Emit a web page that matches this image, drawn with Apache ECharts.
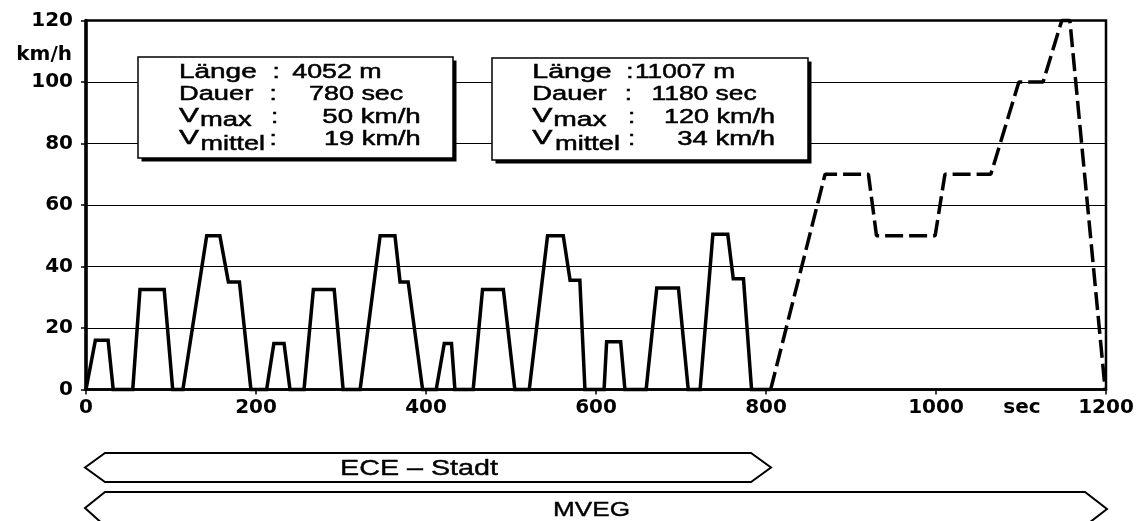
<!DOCTYPE html>
<html><head><meta charset="utf-8">
<script src="https://cdn.jsdelivr.net/npm/echarts@6/dist/echarts.min.js"></script>
<style>html,body{margin:0;padding:0;background:#fff}#c{width:1143px;height:521px}</style>
</head><body><div id="c"></div>
<script>
// ---------- data ----------
const xTickStep = 200;              // x tick labels: 0 ... 1200
const yTickStep = 20;               // y tick labels: 0 ... 120
const unitY = 'km/h';
const unitX = 'sec';

// ECE-Stadt (4 x urban cycle), time [s] and speed [km/h]
const eceT = [0, 11, 26, 32, 55, 63.5, 92, 102, 114, 142, 157.5, 167.5, 180.5, 194, 212.5,
  221, 233, 240, 256.5, 267.5, 292, 302.5, 322.5, 346, 363.5, 369.5, 379, 396, 412,
  421.5, 430, 434, 455.5, 466.5, 491, 504.5, 521.5, 543, 561.5, 569.5, 581, 587, 609.5,
  612.5, 629, 634, 659, 671.5, 697, 708.5, 722.5, 737.5, 755, 761.5, 773.5, 783, 805.5];
const eceV = [0, 16, 16, 0, 0, 32.5, 32.5, 0, 0, 50, 50, 35, 35, 0, 0,
  15, 15, 0, 0, 32.5, 32.5, 0, 0, 50, 50, 35, 35, 0, 0,
  15, 15, 0, 0, 32.5, 32.5, 0, 0, 50, 50, 35.5, 35.5, 0, 0,
  15.5, 15.5, 0, 0, 33, 33, 0, 0, 50.5, 50.5, 36, 36, 0, 0];

// extra-urban part of MVEG (dashed)
const eudcT = [805.5, 869.5, 920.5, 930, 999, 1010.5, 1064.5, 1097.5, 1126, 1148, 1157.5, 1199];
const eudcV = [0, 70, 70, 50, 50, 70, 70, 100, 100, 120, 120, 0];

// info boxes
const statLabels = ['Länge', 'Dauer', 'V', 'V'];
const statSubs = ['', '', 'max', 'mittel'];
const eceStats = ['4052 m', '780 sec', '50 km/h', '19 km/h'];
const mvegStats = ['11007 m', '1180 sec', '120 km/h', '34 km/h'];
const bandLabels = ['ECE – Stadt', 'MVEG'];

// ---------- layout ----------
const zip = (a, b) => a.map((v, i) => [v, b[i]]);
const ctx = document.createElement('canvas').getContext('2d');
const BOXFAMILY = 'Liberation Sans';
const FS = 20;
function txt(str, left, right, cy, size, weight, family, sx, heavy) {
  ctx.font = `${weight} ${size}px "${family}"`;
  const w = ctx.measureText(str).width;
  const scaleX = right != null ? (right - left) / w : (sx || 1.3);
  const style = { text: str, fontSize: size, fontFamily: family, fontWeight: weight, fill: '#000',
    align: 'left', verticalAlign: 'middle', textAlign: 'left', textVerticalAlign: 'middle' };
  if (heavy) { style.stroke = '#000'; style.lineWidth = heavy; }
  return { type: 'text', x: left, y: cy, scaleX: scaleX, z: 30, style: style };
}
function box(x, y, w, h) {
  return [
    { type: 'rect', z: 20, shape: { x: x + 3.5, y: y + 3.5, width: w, height: h }, style: { fill: '#000' } },
    { type: 'rect', z: 21, shape: { x: x, y: y, width: w, height: h }, style: { fill: '#fff', stroke: '#000', lineWidth: 1.5 } }
  ];
}
const HV = 0.5;
function boxTexts(stats, L) {
  const out = [];
  for (let i = 0; i < 4; i++) {
    const cy = L.rows[i];
    if (statSubs[i]) {
      out.push(txt(statLabels[i], L.left - 1, L.vRight, cy - 1, FS, 'normal', BOXFAMILY, null, HV));
      out.push(txt(statSubs[i], L.sub[i][0], L.sub[i][1], L.sub[i][2], FS, 'normal', BOXFAMILY, null, HV));
    } else {
      out.push(txt(statLabels[i], L.left - 1, L.labRight[i], cy, FS, 'normal', BOXFAMILY, null, HV));
    }
    out.push(txt(':', L.colon[i] - 2, null, cy, FS, 'normal', BOXFAMILY, 1.3, HV));
    out.push(txt(stats[i], L.val[i][0] - 1, L.val[i][1], cy, FS, 'normal', BOXFAMILY, null, HV));
  }
  return out;
}
const L1 = { left: 180, vRight: 199, rows: [72.5, 94.5, 117, 139], labRight: [256.7, 253.3],
  sub: [null, null, [200, 251.7, 120.5], [200.5, 265, 144.5]],
  colon: [274.5, 271.5, 273, 271.5], val: [[293.3, 381.7], [310, 403.3], [323.3, 420.7], [325, 420.7]] };
const L2 = { left: 533.3, vRight: 552.5, rows: [72.5, 94.5, 117, 139.5], labRight: [611.7, 606.7],
  sub: [null, null, [553.3, 606.7, 120.5], [555, 620, 144.5]],
  colon: [628.3, 626.7, 630, 630], val: [[636, 735], [652.5, 756.7], [665, 775], [678.3, 775]] };

const graphics = [].concat(
  box(138, 57, 315, 101), box(492, 58, 316, 102),
  boxTexts(eceStats, L1), boxTexts(mvegStats, L2),
  [
    { type: 'polygon', z: 20, shape: { points: [[85, 467.5], [105, 453], [751, 453], [771, 467.5], [751, 482], [105, 482]] },
      style: { fill: '#fff', stroke: '#000', lineWidth: 2 } },
    { type: 'polygon', z: 20, shape: { points: [[85, 508], [105, 492], [1085, 492], [1107, 509], [1085, 526], [105, 526]] },
      style: { fill: '#fff', stroke: '#000', lineWidth: 2 } },
    txt(bandLabels[0], 340, 498, 468.7, 22, 'normal', BOXFAMILY, null, 0.4),
    txt(bandLabels[1], 553, 630, 510.7, 21, 'normal', BOXFAMILY, null, 0.4),
    { type: 'text', x: 72, y: 54.5, z: 30, style: { text: unitY, fontSize: 20, fontFamily: 'DejaVu Sans', fontWeight: 'bold', fill: '#000',
      align: 'right', verticalAlign: 'middle', textAlign: 'right', textVerticalAlign: 'middle' } },
    { type: 'text', x: 1022, y: 408, z: 30, style: { text: unitX, fontSize: 20, fontFamily: 'DejaVu Sans', fontWeight: 'bold', fill: '#000',
      align: 'center', verticalAlign: 'middle', textAlign: 'center', textVerticalAlign: 'middle' } }
  ]
);

const labelStyle = { color: '#000', fontFamily: 'DejaVu Sans', fontWeight: 'bold', fontSize: 20 };
const chart = echarts.init(document.getElementById('c'), null, { renderer: 'canvas' });
chart.setOption({
  animation: false,
  backgroundColor: '#fff',
  grid: { left: 86, right: 37, top: 20.5, bottom: 131.5, show: true, borderColor: '#000', borderWidth: 2.5, backgroundColor: 'transparent' },
  xAxis: {
    type: 'value', min: 0, max: 1200, interval: xTickStep,
    axisLine: { show: true, lineStyle: { color: '#000', width: 2.5 } },
    axisTick: { show: true, length: 5, lineStyle: { color: '#000', width: 1.5 } },
    axisLabel: Object.assign({ margin: 8, formatter: v => String(v) }, labelStyle),
    splitLine: { show: false }
  },
  yAxis: {
    type: 'value', min: 0, max: 120, interval: yTickStep,
    axisLine: { show: true, lineStyle: { color: '#000', width: 3.5 } },
    axisTick: { show: true, length: 5, lineStyle: { color: '#000', width: 1.5 } },
    axisLabel: Object.assign({ margin: 13, formatter: v => String(v) }, labelStyle),
    splitLine: { show: true, lineStyle: { color: '#000', width: 1 } }
  },
  series: [
    { type: 'line', data: zip(eceT, eceV), symbol: 'none', clip: false, z: 5,
      lineStyle: { color: '#000', width: 3.5, join: 'miter' } },
    { type: 'line', data: zip(eudcT, eudcV), symbol: 'none', clip: false, z: 5,
      lineStyle: { color: '#000', width: 3.5, type: [18, 6] } }
  ],
  graphic: { elements: graphics }
});
</script>
</body></html>
